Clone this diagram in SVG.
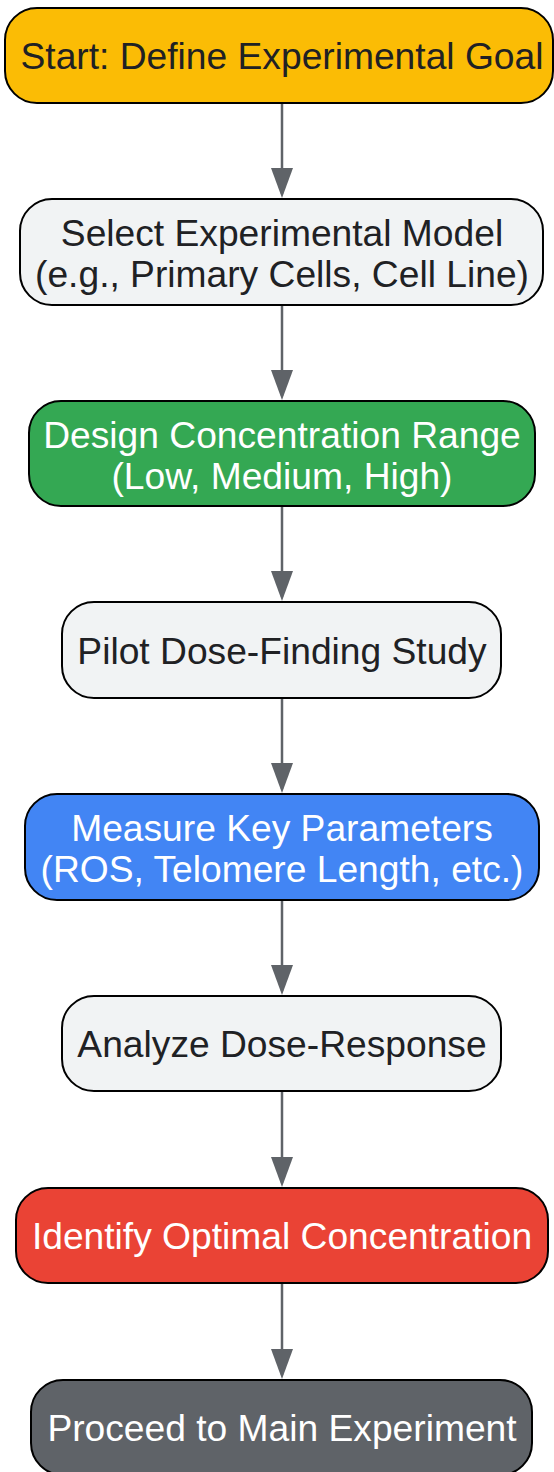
<svg xmlns="http://www.w3.org/2000/svg" width="554" height="1472" viewBox="0 0 554 1472">
<style>
.n{stroke:#000;stroke-width:2}
.t{font-family:"Liberation Sans",Arial,sans-serif;font-size:37.2px;text-anchor:middle;fill:#202124}
.w{fill:#fff}
.e{stroke:#5f6368;stroke-width:2.5;fill:none}
</style>
<defs>
<marker id="ah" markerUnits="userSpaceOnUse" markerWidth="30" markerHeight="22" refX="26" refY="11" orient="auto" viewBox="0 0 30 22">
<path d="M0,0 L30,11 L0,22 Z" fill="#5f6368"/>
</marker>
</defs>
<rect width="554" height="1472" fill="#fff"/>
<g id="edges">
<line class="e" x1="282" y1="103" x2="282" y2="194" marker-end="url(#ah)"/>
<line class="e" x1="282" y1="305" x2="282" y2="396" marker-end="url(#ah)"/>
<line class="e" x1="282" y1="506" x2="282" y2="597" marker-end="url(#ah)"/>
<line class="e" x1="282" y1="698" x2="282" y2="789" marker-end="url(#ah)"/>
<line class="e" x1="282" y1="900" x2="282" y2="991" marker-end="url(#ah)"/>
<line class="e" x1="282" y1="1091" x2="282" y2="1183" marker-end="url(#ah)"/>
<line class="e" x1="282" y1="1283" x2="282" y2="1375" marker-end="url(#ah)"/>
</g>
<g id="n1"><rect class="n" x="5" y="8" width="548" height="95" rx="32" fill="#fbbc05"/><text class="t" x="282" y="69">Start: Define Experimental Goal</text></g>
<g id="n2"><rect class="n" x="20" y="199" width="523" height="106" rx="32" fill="#f1f3f4"/><text class="t" x="282" y="246">Select Experimental Model</text><text class="t" x="282" y="287">(e.g., Primary Cells, Cell Line)</text></g>
<g id="n3"><rect class="n" x="29" y="401" width="506" height="105" rx="32" fill="#34a853"/><text class="t w" x="282" y="448">Design Concentration Range</text><text class="t w" x="282" y="489">(Low, Medium, High)</text></g>
<g id="n4"><rect class="n" x="62" y="602" width="439" height="96" rx="32" fill="#f1f3f4"/><text class="t" x="282" y="664">Pilot Dose-Finding Study</text></g>
<g id="n5"><rect class="n" x="25" y="794" width="514" height="106" rx="32" fill="#4285f4"/><text class="t w" x="282" y="841">Measure Key Parameters</text><text class="t w" x="282" y="882">(ROS, Telomere Length, etc.)</text></g>
<g id="n6"><rect class="n" x="62" y="996" width="439" height="95" rx="32" fill="#f1f3f4"/><text class="t" x="282" y="1057">Analyze Dose-Response</text></g>
<g id="n7"><rect class="n" x="16" y="1188" width="532" height="95" rx="32" fill="#ea4335"/><text class="t w" x="282" y="1249">Identify Optimal Concentration</text></g>
<g id="n8"><rect class="n" x="31" y="1380" width="501" height="95" rx="32" fill="#5f6368"/><text class="t w" x="282" y="1441">Proceed to Main Experiment</text></g>
</svg>
